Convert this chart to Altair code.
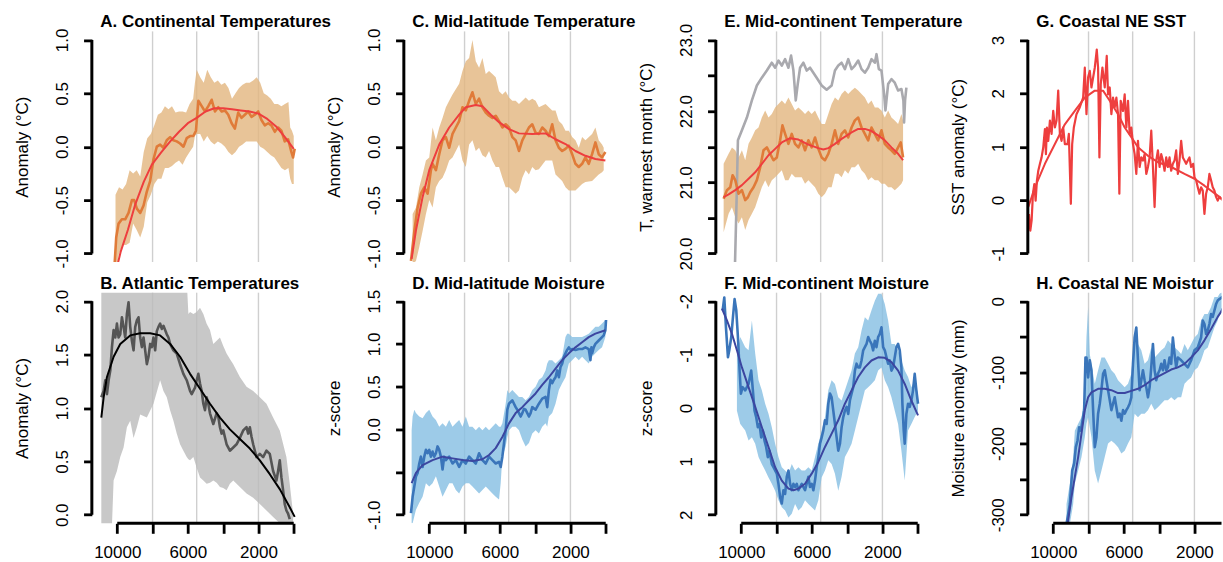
import altair as alt
import pandas as pd

FONT = "Liberation Sans"
W, W_LAST, H = 210, 194, 231
X_LEFT, X_RIGHT = 11440, -440
PX_PER_YR = W / (X_LEFT - X_RIGHT)
X_RIGHT_LAST = round(X_LEFT - W_LAST / PX_PER_YR)

GRID_AGES = [8000, 5500, 2000]
X_TICKS = [10000, 8000, 6000, 4000, 2000, 0]

GRID_COL = "#CFCFCF"
TAN, GRAY_BAND, BLUE_BAND = "#E2B57E", "#BABABA", "#85BEE2"
ORANGE, RED = "#E07B39", "#EE3E3E"
DARK, BLACK = "#555555", "#000000"
BLUE_LINE, BLUE_FIT = "#3A75BA", "#3C46A0"
E_GRAY = "#A9A9AE"

# ---------------- A. Continental Temperatures ----------------
a_band_age = [10100, 9900, 9700, 9500, 9300, 9100, 8900, 8700, 8500, 8300, 8100, 7900, 7700, 7500, 7300, 7100, 6900, 6700, 6500, 6300, 6100, 5900, 5700, 5600, 5500, 5300, 5100, 4900, 4700, 4500, 4300, 4100, 3900, 3700, 3500, 3300, 3100, 2900, 2700, 2500, 2300, 2100, 1900, 1700, 1500, 1300, 1100, 900, 700, 500, 300, 200, 100, 0]
a_band_hi = [-0.45, -0.38, -0.4, -0.35, -0.22, -0.25, -0.22, -0.28, -0.05, 0.08, 0.12, 0.2, 0.3, 0.32, 0.38, 0.35, 0.38, 0.32, 0.33, 0.33, 0.32, 0.4, 0.45, 0.6, 0.72, 0.65, 0.6, 0.72, 0.65, 0.6, 0.62, 0.58, 0.6, 0.55, 0.45, 0.5, 0.55, 0.58, 0.6, 0.6, 0.62, 0.65, 0.6, 0.5, 0.48, 0.45, 0.4, 0.4, 0.38, 0.4, 0.42, 0.18, 0.15, 0.1]
a_band_lo = [-1.2, -1.0, -0.92, -0.92, -0.9, -0.72, -0.78, -0.85, -0.75, -0.52, -0.45, -0.35, -0.3, -0.3, -0.2, -0.2, -0.18, -0.15, -0.13, -0.17, -0.1, -0.05, 0.0, 0.1, 0.12, 0.12, 0.05, 0.1, 0.05, 0.02, 0.05, 0.03, 0.0, -0.05, -0.08, -0.05, 0.0, 0.02, 0.05, 0.05, 0.05, 0.05, 0.0, -0.02, -0.05, -0.08, -0.1, -0.15, -0.2, -0.22, -0.2, -0.3, -0.35, -0.35]
a_line_age = [10150, 10060, 9925, 9740, 9550, 9360, 9170, 9040, 8890, 8700, 8510, 8325, 8135, 7950, 7760, 7570, 7385, 7195, 7005, 6820, 6630, 6440, 6250, 6065, 5875, 5690, 5540, 5405, 5215, 5030, 4840, 4650, 4465, 4275, 4085, 3900, 3710, 3520, 3335, 3145, 2960, 2770, 2580, 2395, 2205, 2015, 1830, 1640, 1450, 1265, 1075, 885, 700, 510, 320, 130, 40, -55]
a_line_val = [-1.1, -0.85, -0.72, -0.68, -0.68, -0.62, -0.5, -0.5, -0.58, -0.62, -0.55, -0.42, -0.32, -0.12, 0.0, 0.02, -0.01, 0.06, 0.09, 0.06, 0.05, 0.03, 0.0, 0.08, 0.1, 0.1, 0.15, 0.43, 0.38, 0.33, 0.38, 0.44, 0.33, 0.37, 0.33, 0.34, 0.3, 0.22, 0.17, 0.32, 0.27, 0.3, 0.33, 0.28, 0.3, 0.33, 0.25, 0.2, 0.22, 0.2, 0.14, 0.18, 0.15, 0.05, 0.07, -0.05, -0.1, -0.02]
a_fit_age = [10050, 9800, 9400, 9000, 8500, 8050, 7500, 7000, 6500, 6000, 5500, 5000, 4500, 4000, 3500, 3000, 2500, 2000, 1500, 1000, 500, 0]
a_fit_val = [-1.15, -0.98, -0.78, -0.55, -0.33, -0.17, -0.05, 0.05, 0.14, 0.22, 0.27, 0.33, 0.36, 0.36, 0.35, 0.34, 0.33, 0.31, 0.26, 0.19, 0.09, -0.02]

# ---------------- B. Atlantic Temperatures ----------------
b_band_age = [10904, 10395, 10301, 10207, 10019, 9831, 9642, 9454, 9266, 9077, 8889, 8701, 8324, 7948, 7571, 7383, 7194, 7006, 6818, 6630, 6441, 6253, 6065, 5970, 5876, 5688, 5500, 5311, 5123, 4935, 4746, 4558, 4370, 4181, 3993, 3805, 3617, 3428, 3052, 2675, 2299, 1922, 1545, 1169, 792, 416, 227, 38]
b_band_lo = [-0.1, -0.1, -0.1, 0.32, 0.41, 0.54, 0.63, 0.82, 0.88, 0.72, 0.82, 0.94, 0.91, 1.04, 1.26, 1.16, 1.1, 0.98, 0.88, 0.76, 0.66, 0.6, 0.54, 0.52, 0.51, 0.54, 0.44, 0.35, 0.32, 0.29, 0.3, 0.32, 0.3, 0.26, 0.25, 0.23, 0.29, 0.32, 0.26, 0.2, 0.16, 0.1, 0.04, -0.02, -0.08, -0.1, -0.1, -0.1]
b_band_hi = [2.2, 2.2, 2.2, 2.2, 2.2, 2.2, 2.2, 2.2, 2.2, 2.2, 2.2, 2.2, 2.2, 2.2, 2.2, 2.2, 2.2, 2.2, 2.2, 2.2, 2.2, 2.2, 2.2, 1.88, 1.9, 1.88, 1.9, 1.94, 1.88, 1.79, 1.73, 1.6, 1.63, 1.66, 1.58, 1.51, 1.46, 1.41, 1.29, 1.2, 1.16, 1.1, 1.04, 0.91, 0.79, 0.54, 0.29, 0.01]
b_line_age = [10904, 10772, 10678, 10584, 10490, 10395, 10301, 10207, 10113, 10019, 9925, 9831, 9736, 9642, 9548, 9454, 9360, 9266, 9171, 9077, 8983, 8889, 8795, 8701, 8607, 8512, 8418, 8324, 8230, 8136, 8042, 7948, 7853, 7759, 7665, 7571, 7477, 7383, 7289, 7194, 7100, 7006, 6912, 6818, 6630, 6441, 6253, 6065, 5876, 5782, 5688, 5594, 5500, 5406, 5311, 5217, 5123, 5029, 4935, 4841, 4746, 4558, 4370, 4276, 4181, 4087, 3993, 3805, 3617, 3428, 3240, 3052, 2864, 2675, 2581, 2487, 2393, 2299, 2110, 1922, 1734, 1545, 1357, 1169, 980, 886, 792, 698, 604, 510, 416, 321, 227]
b_line_val = [1.1, 1.16, 1.26, 1.13, 1.26, 1.35, 1.57, 1.73, 1.66, 1.79, 1.66, 1.69, 1.85, 1.76, 1.66, 1.88, 1.99, 1.76, 1.63, 1.54, 1.76, 1.82, 1.85, 1.66, 1.57, 1.66, 1.54, 1.41, 1.48, 1.6, 1.57, 1.66, 1.54, 1.72, 1.76, 1.79, 1.74, 1.77, 1.73, 1.69, 1.66, 1.6, 1.57, 1.54, 1.51, 1.41, 1.32, 1.26, 1.16, 1.13, 1.16, 1.19, 1.26, 1.32, 1.23, 1.16, 1.04, 0.98, 1.1, 1.04, 0.95, 0.85, 0.95, 0.92, 0.82, 0.76, 0.79, 0.66, 0.6, 0.63, 0.66, 0.72, 0.79, 0.82, 0.76, 0.82, 0.73, 0.66, 0.54, 0.57, 0.54, 0.6, 0.57, 0.41, 0.32, 0.41, 0.51, 0.35, 0.23, 0.1, 0.04, 0.01, -0.04]
b_fit_age = [10904, 10772, 10584, 10207, 9831, 9266, 8701, 8136, 7571, 7006, 6441, 5876, 5311, 4746, 4181, 3617, 3052, 2487, 1922, 1357, 792, 227, -55]
b_fit_val = [0.91, 1.1, 1.29, 1.48, 1.6, 1.68, 1.7, 1.7, 1.68, 1.6, 1.48, 1.32, 1.18, 1.04, 0.91, 0.8, 0.71, 0.62, 0.51, 0.38, 0.24, 0.07, -0.02]

# ---------------- C. Mid-latitude Temperature ----------------
c_band_age = [10942, 10753, 10565, 10377, 10188, 10000, 9812, 9623, 9435, 9247, 9058, 8870, 8682, 8305, 8117, 7929, 7740, 7552, 7364, 7176, 6987, 6799, 6611, 6422, 6234, 6046, 5857, 5669, 5481, 5292, 5104, 4916, 4727, 4539, 4351, 4163, 3974, 3786, 3410, 3033, 2845, 2656, 2468, 2280, 2091, 1903, 1715, 1527, 1338, 1150, 773, 585, 397, 208, 114]
c_band_hi = [-0.63, -0.57, -0.38, -0.26, -0.13, -0.1, 0.18, 0.06, 0.18, 0.27, 0.37, 0.43, 0.49, 0.59, 0.71, 0.8, 0.83, 1.0, 0.8, 0.74, 0.83, 0.68, 0.71, 0.68, 0.65, 0.52, 0.49, 0.52, 0.46, 0.43, 0.43, 0.4, 0.43, 0.46, 0.43, 0.45, 0.43, 0.37, 0.4, 0.34, 0.34, 0.24, 0.21, 0.15, 0.15, 0.09, 0.06, -0.01, 0.09, 0.06, 0.12, 0.18, 0.06, 0.02, -0.01]
c_band_lo = [-1.1, -1.07, -0.94, -0.79, -0.63, -0.5, -0.57, -0.38, -0.32, -0.29, -0.22, -0.13, -0.1, 0.02, -0.13, -0.19, 0.02, 0.06, -0.04, -0.01, -0.08, -0.1, -0.04, -0.13, -0.19, -0.19, -0.29, -0.38, -0.38, -0.41, -0.44, -0.41, -0.29, -0.22, -0.26, -0.19, -0.22, -0.21, -0.13, -0.13, -0.26, -0.29, -0.32, -0.38, -0.41, -0.41, -0.41, -0.38, -0.35, -0.33, -0.32, -0.29, -0.26, -0.24, -0.22]
c_line_age = [11036, 10847, 10659, 10471, 10282, 10094, 9906, 9812, 9623, 9435, 9247, 9058, 8870, 8682, 8494, 8305, 8117, 7929, 7740, 7552, 7364, 7176, 6987, 6799, 6611, 6422, 6234, 6046, 5857, 5669, 5481, 5292, 5104, 4916, 4727, 4539, 4351, 4163, 3974, 3786, 3598, 3410, 3221, 3033, 2845, 2656, 2468, 2280, 2091, 1903, 1715, 1527, 1338, 1150, 962, 773, 585, 397, 208, 20]
c_line_val = [-1.07, -0.79, -0.57, -0.44, -0.38, -0.44, -0.22, -0.16, -0.22, -0.07, 0.06, 0.09, -0.01, 0.12, 0.18, 0.24, 0.37, 0.34, 0.43, 0.51, 0.4, 0.45, 0.37, 0.32, 0.29, 0.27, 0.29, 0.24, 0.18, 0.21, 0.18, 0.09, 0.06, -0.04, 0.06, 0.12, 0.18, 0.21, 0.13, 0.12, 0.18, 0.15, 0.1, 0.21, 0.06, -0.01, -0.04, -0.02, 0.01, -0.07, -0.16, -0.19, -0.16, -0.1, -0.16, -0.07, 0.04, -0.07, -0.1, -0.05]
c_fit_age = [11000, 10750, 10375, 10000, 9435, 8870, 8305, 7930, 7365, 6990, 6515, 6045, 5480, 4915, 4160, 3410, 2845, 2280, 1715, 1150, 585, 20]
c_fit_val = [-1.05, -0.78, -0.47, -0.22, 0.02, 0.18, 0.3, 0.37, 0.39, 0.38, 0.3, 0.23, 0.165, 0.125, 0.12, 0.125, 0.07, 0.025, -0.04, -0.085, -0.115, -0.13]

# ---------------- D. Mid-latitude Moisture ----------------
d_band_age = [10998, 10942, 10847, 10753, 10565, 10377, 10188, 10000, 9812, 9623, 9435, 9247, 9058, 8870, 8682, 8494, 8305, 8117, 7929, 7740, 7552, 7364, 7176, 6987, 6799, 6611, 6422, 6234, 6046, 5952, 5857, 5669, 5575, 5481, 5292, 5104, 4916, 4727, 4539, 4351, 4163, 3974, 3786, 3598, 3410, 3315, 3221, 3033, 2845, 2656, 2468, 2280, 2186, 2091, 1903, 1715, 1527, 1338, 1150, 962, 773, 585, 397, 208, 20]
d_band_hi = [-0.01, 0.15, 0.23, 0.19, 0.15, 0.13, 0.19, 0.23, 0.15, 0.11, 0.03, 0.07, 0.03, 0.11, 0.03, 0.07, 0.11, 0.03, 0.15, 0.03, 0.03, -0.01, 0.03, -0.01, 0.03, -0.01, 0.03, 0.07, 0.03, 0.03, 0.07, 0.3, 0.46, 0.42, 0.46, 0.42, 0.38, 0.38, 0.34, 0.38, 0.46, 0.5, 0.58, 0.61, 0.69, 0.77, 0.81, 0.81, 0.77, 0.81, 0.85, 1.08, 1.12, 1.12, 1.08, 1.08, 1.08, 1.08, 1.1, 1.12, 1.16, 1.2, 1.2, 1.24, 1.28]
d_band_lo = [-1.1, -1.1, -1.02, -0.94, -0.86, -0.79, -0.63, -0.67, -0.63, -0.55, -0.67, -0.79, -0.71, -0.63, -0.63, -0.71, -0.75, -0.67, -0.63, -0.63, -0.67, -0.71, -0.75, -0.71, -0.67, -0.71, -0.75, -0.79, -0.82, -0.63, -0.32, -0.2, -0.09, -0.01, 0.03, 0.03, -0.01, -0.12, -0.2, -0.16, -0.05, -0.01, -0.05, 0.03, 0.07, 0.03, 0.15, 0.19, 0.3, 0.46, 0.54, 0.61, 0.69, 0.77, 0.81, 0.85, 0.81, 0.85, 0.81, 0.77, 0.85, 0.89, 0.93, 0.96, 1.08]
d_line_age = [11036, 10942, 10847, 10753, 10659, 10565, 10471, 10377, 10282, 10188, 10094, 10000, 9906, 9812, 9718, 9623, 9529, 9435, 9341, 9247, 9153, 9058, 8870, 8682, 8494, 8305, 8117, 7929, 7740, 7552, 7364, 7176, 6987, 6799, 6611, 6422, 6234, 6046, 5952, 5857, 5763, 5669, 5575, 5481, 5387, 5292, 5198, 5104, 5010, 4916, 4822, 4727, 4633, 4539, 4445, 4351, 4257, 4163, 3974, 3786, 3598, 3410, 3315, 3221, 3127, 3033, 2939, 2845, 2750, 2656, 2562, 2468, 2374, 2280, 2186, 2091, 1997, 1903, 1715, 1527, 1338, 1150, 962, 867, 811, 773, 679, 585, 397, 208, 114, 20, -18]
d_line_val = [-0.98, -0.79, -0.67, -0.55, -0.51, -0.4, -0.32, -0.44, -0.32, -0.24, -0.28, -0.24, -0.32, -0.26, -0.32, -0.28, -0.2, -0.24, -0.32, -0.47, -0.32, -0.36, -0.32, -0.4, -0.36, -0.44, -0.36, -0.4, -0.32, -0.36, -0.4, -0.28, -0.36, -0.4, -0.32, -0.36, -0.4, -0.38, -0.44, -0.32, -0.16, -0.01, 0.23, 0.3, 0.32, 0.34, 0.3, 0.26, 0.23, 0.19, 0.15, 0.19, 0.24, 0.23, 0.19, 0.15, 0.19, 0.26, 0.23, 0.3, 0.36, 0.38, 0.26, 0.46, 0.58, 0.54, 0.58, 0.61, 0.69, 0.61, 0.73, 0.77, 0.85, 0.89, 0.93, 0.96, 0.93, 0.94, 0.93, 0.94, 0.94, 0.96, 0.94, 0.81, 0.96, 0.89, 0.96, 1.0, 1.04, 1.08, 1.1, 1.16, 1.28]
d_fit_age = [10998, 10753, 10377, 9812, 9247, 8682, 8117, 7552, 6987, 6611, 6234, 5857, 5481, 5104, 4727, 4351, 3974, 3598, 3221, 2845, 2468, 2091, 1715, 1338, 962, 585, 20]
d_fit_val = [-0.63, -0.51, -0.42, -0.36, -0.32, -0.34, -0.36, -0.37, -0.35, -0.3, -0.22, -0.09, 0.07, 0.19, 0.26, 0.34, 0.42, 0.52, 0.61, 0.71, 0.81, 0.89, 0.96, 1.02, 1.08, 1.12, 1.16]

# ---------------- E. Mid-continent Temperature ----------------
e_band_age = [10998, 10716, 10527, 10339, 10151, 9962, 9774, 9586, 9397, 9209, 9021, 8833, 8644, 8456, 8268, 8079, 7891, 7703, 7514, 7326, 7138, 6950, 6761, 6573, 6385, 6196, 6008, 5820, 5631, 5443, 5255, 5067, 4878, 4690, 4502, 4313, 4125, 3937, 3749, 3560, 3372, 3184, 2995, 2807, 2619, 2430, 2242, 2054, 1866, 1677, 1489, 1301, 1112, 924, 830]
e_band_hi = [21.26, 21.4, 21.49, 21.45, 21.35, 21.45, 21.31, 21.54, 21.63, 21.73, 21.77, 21.91, 22.01, 21.91, 21.96, 22.05, 22.1, 22.15, 22.1, 22.19, 22.1, 22.01, 22.05, 22.01, 21.96, 22.01, 21.96, 22.01, 21.91, 21.82, 21.82, 21.96, 22.1, 22.19, 22.15, 22.24, 22.29, 22.24, 22.29, 22.33, 22.29, 22.24, 22.19, 22.1, 22.15, 22.05, 22.05, 22.01, 21.91, 22.01, 21.91, 21.87, 21.82, 21.96, 21.87]
e_band_lo = [20.3, 20.56, 20.65, 20.51, 20.42, 20.51, 20.33, 20.47, 20.56, 20.65, 20.79, 20.93, 21.03, 20.93, 21.03, 21.07, 21.12, 21.17, 21.03, 21.03, 21.12, 21.07, 21.07, 21.07, 20.98, 21.03, 20.98, 20.93, 20.84, 20.79, 20.84, 20.93, 20.93, 21.12, 21.12, 21.07, 21.17, 21.12, 21.21, 21.21, 21.26, 21.17, 21.12, 21.03, 21.07, 21.03, 21.03, 20.98, 20.98, 20.93, 20.93, 20.89, 20.93, 20.98, 21.03]
e_line_age = [10998, 10810, 10621, 10490, 10339, 10151, 9962, 9774, 9623, 9492, 9303, 9115, 8927, 8738, 8550, 8362, 8173, 7985, 7797, 7665, 7514, 7326, 7138, 6950, 6761, 6573, 6385, 6196, 6008, 5820, 5631, 5443, 5255, 5067, 4878, 4690, 4502, 4313, 4125, 3937, 3749, 3560, 3372, 3184, 2995, 2807, 2619, 2430, 2242, 2054, 1866, 1677, 1489, 1301, 1112, 962, 830]
e_line_val = [20.77, 20.89, 20.93, 21.1, 21.03, 20.84, 20.89, 20.75, 20.79, 20.86, 20.93, 21.03, 21.21, 21.45, 21.49, 21.4, 21.31, 21.35, 21.59, 21.8, 21.68, 21.54, 21.68, 21.54, 21.49, 21.59, 21.45, 21.59, 21.49, 21.63, 21.47, 21.35, 21.31, 21.4, 21.54, 21.73, 21.54, 21.68, 21.73, 21.63, 21.77, 21.87, 21.91, 21.77, 21.68, 21.59, 21.77, 21.68, 21.59, 21.73, 21.54, 21.49, 21.45, 21.4, 21.49, 21.56, 21.35]
e_gray_age = [10358, 10264, 10188, 9962, 9680, 9397, 9115, 8833, 8550, 8268, 8079, 7891, 7703, 7514, 7326, 7176, 7044, 6912, 6799, 6667, 6479, 6291, 6102, 5914, 5726, 5443, 5161, 4878, 4690, 4502, 4313, 4125, 3937, 3749, 3560, 3372, 3184, 2995, 2807, 2619, 2430, 2336, 2204, 2054, 1904, 1829, 1677, 1489, 1301, 1112, 924, 811, 773, 717, 642]
e_gray_val = [19.81, 20.75, 21.59, 21.73, 21.91, 22.15, 22.36, 22.47, 22.57, 22.68, 22.61, 22.71, 22.64, 22.73, 22.61, 22.78, 22.57, 22.15, 22.38, 22.61, 22.68, 22.57, 22.61, 22.54, 22.47, 22.36, 22.3, 22.36, 22.57, 22.64, 22.68, 22.59, 22.73, 22.59, 22.64, 22.71, 22.59, 22.54, 22.61, 22.73, 22.68, 22.8, 22.59, 22.57, 22.24, 22.01, 22.38, 22.45, 22.4, 22.29, 22.31, 22.15, 21.84, 22.15, 22.33]
e_fit_age = [10998, 10716, 10339, 9962, 9586, 9209, 8833, 8456, 8079, 7703, 7232, 6761, 6196, 5631, 5349, 5067, 4690, 4313, 3749, 3372, 2995, 2619, 2242, 1866, 1489, 1112, 830]
e_fit_val = [20.79, 20.83, 20.89, 20.96, 21.05, 21.14, 21.26, 21.38, 21.47, 21.56, 21.62, 21.6, 21.53, 21.48, 21.46, 21.48, 21.54, 21.61, 21.7, 21.75, 21.75, 21.72, 21.66, 21.59, 21.49, 21.4, 21.31]

# ---------------- F. Mid-continent Moisture ----------------
f_band_age = [10245, 10056, 9774, 9586, 9397, 9209, 9021, 8833, 8644, 8456, 8268, 8079, 7891, 7703, 7514, 7326, 7138, 6950, 6761, 6573, 6385, 6196, 6008, 5820, 5631, 5443, 5255, 5067, 4878, 4690, 4502, 4313, 4125, 3937, 3749, 3560, 3372, 3184, 2995, 2807, 2619, 2430, 2242, 2054, 1866, 1677, 1489, 1301, 1112, 924, 736, 548, 360, 171, -17]
f_band_top = [-1.0, -1.33, -1.14, -1.08, -1.64, -1.02, -0.52, -0.33, -0.08, 0.11, 0.36, 0.67, 0.92, 1.11, 1.17, 1.23, 1.05, 1.17, 1.11, 1.17, 1.17, 1.11, 1.17, 0.92, 0.67, 0.42, 0.17, -0.33, -0.52, -0.45, -0.2, -0.14, -0.33, -0.52, -0.7, -1.02, -1.14, -1.45, -1.7, -1.64, -1.83, -2.01, -2.14, -2.14, -1.95, -1.64, -1.2, -1.2, -1.08, -0.89, -0.7, -0.58, -0.39, -0.52, -0.27]
f_band_bot = [0.05, 0.3, 0.42, 0.61, 0.55, 0.67, 0.92, 1.05, 1.17, 1.3, 1.42, 1.55, 1.73, 1.86, 1.92, 2.05, 1.98, 1.8, 1.92, 1.86, 1.73, 1.8, 1.86, 1.92, 1.73, 1.3, 1.17, 0.98, 1.05, 1.23, 1.55, 1.29, 0.92, 0.8, 0.67, 0.42, 0.17, -0.08, -0.33, -0.39, -0.45, -0.52, -0.7, -0.76, -0.52, -0.39, -0.2, 0.05, 0.3, 0.8, 1.36, 0.42, 0.3, 0.17, 0.05]
f_line_age = [11054, 10960, 10866, 10753, 10678, 10565, 10471, 10377, 10282, 10188, 10094, 10019, 9925, 9774, 9586, 9435, 9341, 9247, 9153, 9058, 8964, 8870, 8776, 8682, 8588, 8494, 8399, 8268, 8173, 8079, 7985, 7891, 7797, 7703, 7609, 7514, 7420, 7326, 7232, 7138, 7044, 6950, 6855, 6761, 6667, 6573, 6385, 6196, 6102, 6008, 5914, 5820, 5726, 5631, 5537, 5443, 5349, 5255, 5161, 5067, 4972, 4878, 4784, 4690, 4596, 4502, 4407, 4313, 4219, 4125, 4031, 3937, 3843, 3749, 3654, 3560, 3466, 3372, 3278, 3184, 3089, 2995, 2901, 2807, 2713, 2619, 2525, 2430, 2336, 2242, 2148, 2054, 1960, 1866, 1771, 1677, 1583, 1489, 1395, 1301, 1207, 1112, 1018, 924, 868, 793, 736, 642, 548, 454, 360, 266, 171, 77, -17]
f_line_val = [-1.83, -2.07, -1.51, -0.95, -1.08, -1.33, -1.7, -2.04, -1.83, -1.33, -0.7, -0.27, -0.39, -0.33, -0.45, -0.7, -0.33, 0.05, 0.17, 0.36, 0.3, 0.55, 0.42, 0.61, 0.73, 0.92, 0.8, 1.05, 1.11, 1.17, 1.23, 1.42, 1.67, 1.79, 1.54, 1.61, 1.29, 1.17, 1.42, 1.54, 1.42, 1.48, 1.42, 1.54, 1.48, 1.42, 1.54, 1.29, 1.48, 1.42, 1.54, 1.36, 1.11, 0.92, 0.67, 0.55, 0.42, 0.23, 0.3, -0.08, -0.27, -0.2, 0.05, 0.3, 0.55, 0.8, 0.67, 0.36, 0.17, 0.05, -0.02, 0.11, -0.14, -0.27, -0.39, -0.7, -0.83, -0.76, -0.76, -0.89, -1.08, -1.14, -1.2, -1.33, -1.26, -1.2, -1.08, -1.26, -1.14, -1.33, -1.39, -1.51, -1.14, -1.08, -0.95, -0.83, -0.89, -0.7, -0.76, -0.95, -1.14, -1.2, -1.08, -0.76, -0.08, 0.42, 0.67, 0.11, -0.08, -0.02, -0.14, -0.33, -0.64, -0.33, -0.08]
f_fit_age = [11092, 10810, 10527, 10245, 9962, 9586, 9209, 8833, 8456, 8079, 7703, 7326, 7044, 6761, 6385, 6008, 5631, 5255, 4878, 4502, 4125, 3749, 3372, 2995, 2619, 2242, 1866, 1489, 1112, 736, 360, -17]
f_fit_val = [-1.86, -1.64, -1.39, -1.08, -0.76, -0.39, -0.02, 0.36, 0.73, 1.11, 1.36, 1.51, 1.54, 1.51, 1.42, 1.23, 1.01, 0.73, 0.48, 0.23, -0.08, -0.33, -0.58, -0.76, -0.89, -0.95, -0.94, -0.86, -0.7, -0.45, -0.14, 0.14]

# ---------------- G. Coastal NE SST ----------------
g_line_age = [11375, 11299, 11224, 11149, 11073, 10998, 10923, 10847, 10753, 10659, 10565, 10471, 10414, 10358, 10282, 10188, 10094, 10000, 9906, 9812, 9718, 9623, 9529, 9435, 9341, 9190, 9115, 9002, 8927, 8833, 8682, 8494, 8305, 8211, 8117, 8023, 7929, 7835, 7646, 7533, 7458, 7383, 7307, 7213, 7081, 6968, 6893, 6799, 6705, 6611, 6517, 6422, 6328, 6253, 6178, 6046, 5951, 5857, 5763, 5669, 5575, 5481, 5387, 5292, 5198, 5104, 5010, 4916, 4822, 4727, 4633, 4539, 4445, 4351, 4257, 4163, 4068, 3974, 3880, 3786, 3692, 3598, 3504, 3410, 3315, 3221, 3127, 3033, 2939, 2845, 2750, 2656, 2562, 2468, 2374, 2280, 2186, 2073, 1997, 1903, 1809, 1715, 1621, 1527, 1432, 1338, 1244, 1150, 1056, 962, 867, 773, 679, 585, 400]
g_line_val = [-0.26, -0.57, -0.38, 0.12, 0.3, -0.01, 0.37, 0.55, 0.68, 0.8, 0.99, 1.33, 0.86, 1.36, 1.11, 1.49, 1.24, 1.67, 1.36, 1.49, 2.05, 1.24, 1.11, 1.36, 1.05, 1.05, 1.24, -0.07, 1.05, 1.36, 1.61, 1.74, 1.92, 2.48, 1.61, 2.3, 2.42, 2.11, 2.48, 2.82, 2.48, 0.8, 2.17, 2.48, 2.11, 2.7, 1.98, 2.11, 1.61, 1.92, 1.74, 1.92, 1.61, 0.12, 1.86, 1.67, 1.98, 1.36, 1.86, 1.24, 1.36, 1.05, 0.86, 0.49, 1.11, 0.62, 0.8, 0.74, 0.86, 0.49, 0.62, 0.8, 1.3, 0.62, -0.13, 0.74, 0.93, 0.62, 0.86, 0.74, 0.55, 0.8, 0.62, 0.8, 0.55, 0.68, 0.74, 0.93, 0.49, 0.74, 1.11, 0.8, 0.74, 0.68, 0.74, 0.8, 0.62, 0.68, 0.43, 0.37, 0.24, 0.12, 0.24, 0.18, -0.26, 0.12, 0.24, 0.49, 0.37, 0.24, 0.18, 0.06, -0.01, 0.06, 0.0]
g_fit_age = [11412, 11036, 10471, 9906, 9341, 8776, 8211, 7646, 7176, 6799, 6328, 5951, 5575, 5198, 4633, 4068, 3315, 2562, 1997, 1432, 585, 400]
g_fit_val = [-0.13, 0.24, 0.68, 1.05, 1.42, 1.67, 1.92, 2.05, 2.05, 1.86, 1.61, 1.36, 1.18, 0.99, 0.83, 0.71, 0.62, 0.49, 0.4, 0.27, 0.06, 0.02]

# ---------------- H. Coastal NE Moisture ----------------
h_band_age = [9247, 9058, 8870, 8776, 8588, 8399, 8211, 8117, 8023, 7929, 7835, 7646, 7458, 7270, 7081, 6893, 6705, 6517, 6328, 6140, 5951, 5763, 5575, 5387, 5198, 5010, 4822, 4633, 4445, 4257, 4068, 3880, 3692, 3504, 3315, 3127, 2939, 2750, 2562, 2374, 2186, 1997, 1809, 1621, 1432, 1244, 1056, 867, 679, 585, 400]
h_band_hi = [-285, -256, -219, -182, -172, -163, -135, -51, -8, -74, -88, -116, -97, -79, -79, -88, -97, -102, -111, -116, -121, -116, -102, -46, -60, -69, -88, -83, -65, -79, -74, -69, -65, -55, -60, -65, -69, -74, -60, -69, -60, -51, -46, -27, -18, -18, -8, 6, 6, 10, 14]
h_band_lo = [-313, -313, -285, -256, -238, -219, -191, -172, -163, -177, -191, -238, -256, -238, -219, -200, -196, -200, -205, -214, -210, -200, -191, -158, -163, -158, -158, -153, -144, -153, -149, -144, -139, -139, -135, -139, -135, -135, -116, -111, -107, -97, -93, -83, -69, -65, -51, -37, -27, -18, -12]
h_line_age = [9247, 9058, 8927, 8814, 8720, 8625, 8531, 8437, 8343, 8249, 8173, 8117, 8023, 7929, 7835, 7740, 7646, 7552, 7458, 7364, 7270, 7176, 7081, 6987, 6893, 6799, 6705, 6611, 6517, 6422, 6328, 6234, 6140, 6046, 5951, 5857, 5763, 5669, 5575, 5481, 5387, 5292, 5198, 5104, 5010, 4916, 4822, 4727, 4633, 4539, 4445, 4351, 4257, 4163, 4068, 3974, 3880, 3786, 3692, 3598, 3504, 3410, 3315, 3221, 3127, 3033, 2939, 2750, 2562, 2374, 2186, 1997, 1809, 1621, 1527, 1432, 1338, 1244, 1150, 1056, 962, 867, 773, 679, 585, 400]
h_line_val = [-313, -285, -238, -228, -205, -196, -177, -182, -168, -153, -79, -79, -107, -83, -97, -153, -205, -191, -158, -144, -125, -102, -97, -111, -125, -139, -153, -144, -135, -149, -163, -158, -168, -153, -158, -153, -149, -144, -135, -88, -51, -37, -83, -125, -111, -97, -111, -121, -135, -121, -93, -60, -97, -111, -102, -97, -88, -97, -83, -97, -93, -79, -88, -51, -74, -93, -79, -83, -88, -93, -83, -69, -65, -51, -27, -32, -46, -41, -32, -18, -22, -13, -4, 1, 3, 6]
h_fit_age = [9300, 9153, 8964, 8776, 8588, 8399, 8211, 8023, 7835, 7458, 7081, 6705, 6328, 5951, 5575, 5198, 4822, 4445, 4068, 3692, 3315, 2939, 2562, 2186, 1809, 1432, 1056, 679, 491, 400]
h_fit_val = [-335, -308, -275, -247, -219, -186, -153, -135, -128, -123, -123, -125, -129, -129, -126, -123, -118, -111, -106, -101, -96, -93, -88, -79, -69, -55, -39, -22, -15, -10]


def signed(fmt):
    return f"datum.value < 0 ? '-' + format(-datum.value, '{fmt}') : format(datum.value, '{fmt}')"


PANELS = [
    dict(title="A. Continental Temperatures", ytitle="Anomaly (°C)", ydom=[-1.08, 1.08],
         yticks=[-1, -0.5, 0, 0.5, 1], lexpr=signed(".1f"),
         band=(a_band_age, a_band_lo, a_band_hi, TAN), line=(a_line_age, a_line_val, ORANGE, 2.6),
         fit=(a_fit_age, a_fit_val, RED, 2.0), row=0, col=0),
    dict(title="C. Mid-latitude Temperature", ytitle="Anomaly (°C)", ydom=[-1.08, 1.08],
         yticks=[-1, -0.5, 0, 0.5, 1], lexpr=signed(".1f"),
         band=(c_band_age, c_band_lo, c_band_hi, TAN), line=(c_line_age, c_line_val, ORANGE, 2.6),
         fit=(c_fit_age, c_fit_val, RED, 2.0), row=0, col=1),
    dict(title="E. Mid-continent Temperature", ytitle="T, warmest month (°C)", ydom=[19.88, 23.12],
         yticks=[20, 20.5, 21, 21.5, 22, 22.5, 23],
         lexpr="datum.value % 1 == 0 ? format(datum.value, '.1f') : ''",
         band=(e_band_age, e_band_lo, e_band_hi, TAN), line=(e_line_age, e_line_val, ORANGE, 2.6),
         fit=(e_fit_age, e_fit_val, RED, 2.0), extra=(e_gray_age, e_gray_val, E_GRAY, 2.6), row=0, col=2),
    dict(title="G. Coastal NE SST", ytitle="SST anomaly (°C)", ydom=[-1.16, 3.16],
         yticks=[-1, 0, 1, 2, 3], lexpr=signed("d"),
         band=None, line=(g_line_age, g_line_val, RED, 2.2),
         fit=(g_fit_age, g_fit_val, RED, 2.0), row=0, col=3),
    dict(title="B. Atlantic Temperatures", ytitle="Anomaly (°C)", ydom=[-0.08, 2.08],
         yticks=[0, 0.5, 1, 1.5, 2], lexpr=signed(".1f"),
         band=(b_band_age, b_band_lo, b_band_hi, GRAY_BAND), line=(b_line_age, b_line_val, DARK, 2.6),
         fit=(b_fit_age, b_fit_val, BLACK, 2.0), row=1, col=0),
    dict(title="D. Mid-latitude Moisture", ytitle="z-score", ydom=[-1.1, 1.6],
         yticks=[-1, -0.5, 0, 0.5, 1, 1.5],
         lexpr="datum.value == -0.5 ? '' : (" + signed(".1f") + ")",
         band=(d_band_age, d_band_lo, d_band_hi, BLUE_BAND), line=(d_line_age, d_line_val, BLUE_LINE, 2.6),
         fit=(d_fit_age, d_fit_val, BLUE_FIT, 2.0), row=1, col=1),
    dict(title="F. Mid-continent Moisture", ytitle="z-score", ydom=[-2.16, 2.16], yrev=True,
         yticks=[-2, -1, 0, 1, 2], lexpr=signed("d"),
         band=(f_band_age, f_band_top, f_band_bot, BLUE_BAND), line=(f_line_age, f_line_val, BLUE_LINE, 2.6),
         fit=(f_fit_age, f_fit_val, BLUE_FIT, 2.0), row=1, col=2),
    dict(title="H. Coastal NE Moisture", ytitle="Moisture anomaly (mm)", ydom=[-312, 12],
         yticks=[-300, -250, -200, -150, -100, -50, 0],
         lexpr="datum.value % 100 == 0 ? (" + signed("d") + ") : ''",
         band=(h_band_age, h_band_lo, h_band_hi, BLUE_BAND), line=(h_line_age, h_line_val, BLUE_LINE, 2.6),
         fit=(h_fit_age, h_fit_val, BLUE_FIT, 2.0), row=1, col=3),
]


def build(p):
    last = p["col"] == 3
    bottom = p["row"] == 1
    w = W_LAST if last else W
    xscale = alt.Scale(domain=[X_RIGHT_LAST if last else X_RIGHT, X_LEFT], reverse=True, nice=False, zero=False)
    if bottom:
        xaxis = alt.Axis(values=X_TICKS[:-1] if last else X_TICKS,
                         labelExpr="datum.value % 4000 == 2000 ? format(datum.value, 'd') : ''",
                         domain=False, grid=False, tickColor="black", tickWidth=2.8, tickSize=10,
                         labelFontSize=17, labelFont=FONT, labelColor="black", labelPadding=24,
                         labelBaseline="alphabetic", labelAlign="center", labelAngle=0,
                         labelFlush=False, labelOverlap=False, title=None)
    else:
        xaxis = None
    yscale = alt.Scale(domain=p["ydom"], reverse=p.get("yrev", False), nice=False, zero=False)
    yaxis = alt.Axis(values=p["yticks"], labelExpr=p["lexpr"], domain=False, grid=False,
                     tickColor="black", tickWidth=2.8, tickSize=8.3,
                     labelAngle=270, labelAlign="center", labelBaseline="alphabetic", labelPadding=16.5,
                     labelFontSize=17, labelFont=FONT, labelColor="black", labelFlush=False, labelOverlap=False,
                     title=p["ytitle"], titleFont=FONT, titleFontSize=17, titleFontWeight="normal",
                     titleColor="black", titleAngle=270, titleAlign="center", titleBaseline="middle",
                     titleX=-69, titleY=H / 2)

    def X(f):
        return alt.X(f, type="quantitative", scale=xscale, axis=xaxis)

    def Y(f):
        return alt.Y(f, type="quantitative", scale=yscale, axis=yaxis)

    layers = []
    layers.append(alt.Chart(pd.DataFrame({"age": GRID_AGES})).mark_rule(color=GRID_COL, strokeWidth=1.4)
                  .encode(x=X("age"), y=alt.value(0), y2=alt.value(H)))
    if p["band"] is not None:
        ages, lo, hi, col = p["band"]
        layers.append(alt.Chart(pd.DataFrame({"age": ages, "lo": lo, "hi": hi}))
                      .mark_area(color=col, opacity=0.8, clip=True)
                      .encode(x=X("age"), y=Y("lo"), y2=alt.Y2("hi")))
    for key in ("extra", "line", "fit"):
        if p.get(key) is not None:
            ages, vals, col, sw = p[key]
            layers.append(alt.Chart(pd.DataFrame({"age": ages, "v": vals}))
                          .mark_line(color=col, strokeWidth=sw, clip=True, strokeJoin="round")
                          .encode(x=X("age"), y=Y("v")))
    ylo, yhi = min(p["yticks"]), max(p["yticks"])
    layers.append(alt.Chart(pd.DataFrame({"a": [ylo], "b": [yhi]}))
                  .mark_rule(color="black", strokeWidth=3, strokeCap="butt")
                  .encode(x=alt.value(0), y=Y("a"), y2=alt.Y2("b")))
    if bottom:
        layers.append(alt.Chart(pd.DataFrame({"a": [X_TICKS[0]], "b": [X_RIGHT_LAST if last else X_TICKS[-1]]}))
                      .mark_rule(color="black", strokeWidth=3, strokeCap="butt")
                      .encode(x=X("a"), x2=alt.X2("b"), y=alt.value(H)))
    tkw = dict(align="left", baseline="alphabetic", font=FONT, fontSize=17, fontWeight="bold", color="black")
    if last:
        tkw.update(limit=w - 8.5, ellipsis="\u200b")
    layers.append(alt.Chart(pd.DataFrame({"t": [p["title"]]})).mark_text(**tkw)
                  .encode(x=alt.value(8.5), y=alt.value(-4), text="t:N"))
    return alt.layer(*layers).properties(width=w, height=H)


panels = [build(p) for p in PANELS]

chart = alt.concat(*panels, columns=4, spacing={"row": 30.7, "column": 102.5},
                   bounds="flush", align="each").properties(
    padding={"left": 14, "top": 13, "right": 0, "bottom": 0},
    background="white",
).configure_view(strokeWidth=0)

chart.save("out.html", embed_options={"renderer": "svg", "actions": False})
